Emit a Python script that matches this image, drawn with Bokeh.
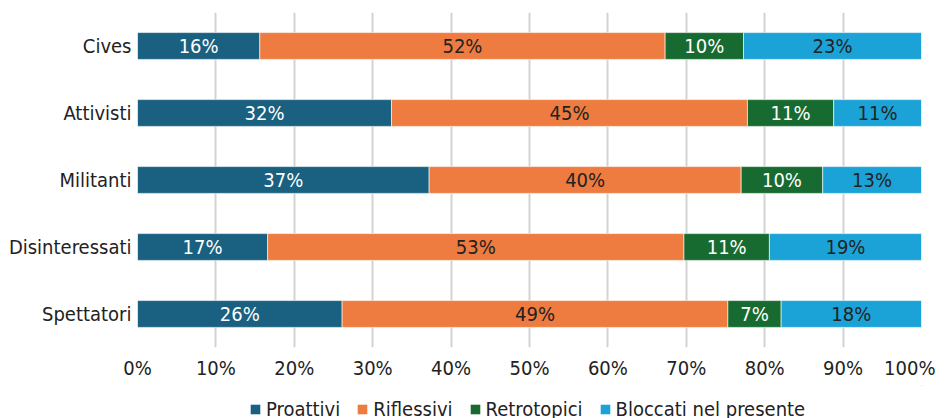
from bokeh.plotting import figure
from bokeh.layouts import column
from bokeh.models import Range1d, FixedTicker, PrintfTickFormatter, Legend, LegendItem, ColumnDataSource
from bokeh.core.properties import value
from bokeh.embed import file_html
from bokeh.resources import INLINE

categories = ["Cives", "Attivisti", "Militanti", "Disinteressati", "Spettatori"]
series_names = ["Proattivi", "Riflessivi", "Retrotopici", "Bloccati nel presente"]
proattivi = [15.6, 32.4, 37.2, 16.6, 26.1]
riflessivi = [51.7, 45.4, 39.8, 53.1, 49.2]
retrotopici = [10.0, 11.0, 10.4, 10.9, 6.8]
bloccati = [22.7, 11.2, 12.6, 19.4, 17.9]
tick_values = [0, 10, 20, 30, 40, 50, 60, 70, 80, 90, 100]

colors = ["#1A6080", "#EE7B3F", "#186B30", "#1BA2D6"]
text_colors = ["#FFFFFF", "#222222", "#FFFFFF", "#222222"]
FONT = "DejaVu Sans Condensed"

p = figure(width=935, height=385, output_backend="svg", toolbar_location=None,
           y_range=list(reversed(categories)), x_range=Range1d(0, 100),
           min_border_left=137, min_border_right=14, min_border_top=12, min_border_bottom=38)
p.outline_line_color = None
p.background_fill_color = "white"

series = [proattivi, riflessivi, retrotopici, bloccati]
left = [0.0] * len(categories)
for name, vals, col, tcol in zip(series_names, series, colors, text_colors):
    right = [l + v for l, v in zip(left, vals)]
    mid = [(l + r) / 2 for l, r in zip(left, right)]
    labels = [f"{int(v + 0.5)}%" for v in vals]
    src = ColumnDataSource(dict(y=categories, left=left, right=right, mid=mid, label=labels))
    p.hbar(y="y", left="left", right="right", height=0.4, source=src,
           fill_color=col, line_color="#FFFFFF", line_width=0.6)
    p.text(x="mid", y="y", text="label", source=src, text_align="center", text_baseline="middle",
           text_font=value(FONT), text_font_size="20px", text_color=tcol)
    left = right

p.xaxis.ticker = FixedTicker(ticks=tick_values)
p.xaxis.formatter = PrintfTickFormatter(format="%d%%")
for ax in (p.xaxis, p.yaxis):
    ax.axis_line_color = None
    ax.major_tick_line_color = None
    ax.minor_tick_line_color = None
    ax.major_tick_out = 0
    ax.major_tick_in = 0
    ax.major_label_text_font = FONT
    ax.major_label_text_font_size = "20px"
    ax.major_label_text_color = "#222222"
p.xaxis.major_label_standoff = 8
p.yaxis.major_label_standoff = 6

p.xgrid.grid_line_color = "#D3D3D3"
p.xgrid.grid_line_width = 2
p.ygrid.grid_line_color = None

# legend strip below the chart (its swatch renderers sit far outside the visible range)
p2 = figure(width=935, height=33, output_backend="svg", toolbar_location=None,
            x_range=Range1d(0, 1), y_range=Range1d(0, 1), min_border=0)
p2.axis.visible = False
p2.grid.grid_line_color = None
p2.outline_line_color = None
items = []
for name, col in zip(series_names, colors):
    r = p2.hbar(y=[50], left=[50], right=[51], height=0.4, fill_color=col, line_color=None)
    items.append(LegendItem(label=name, renderers=[r]))
legend = Legend(items=items, orientation="horizontal", location=(112, -3),
                label_text_font=FONT, label_text_font_size="20px", label_text_color="#222222",
                glyph_width=12, glyph_height=12, label_standoff=5, spacing=16,
                padding=0, margin=0, border_line_alpha=0, background_fill_alpha=0,
                label_height=20)
p2.add_layout(legend, "center")

open("out.html", "w").write(file_html(column(p, p2, spacing=0), INLINE))
